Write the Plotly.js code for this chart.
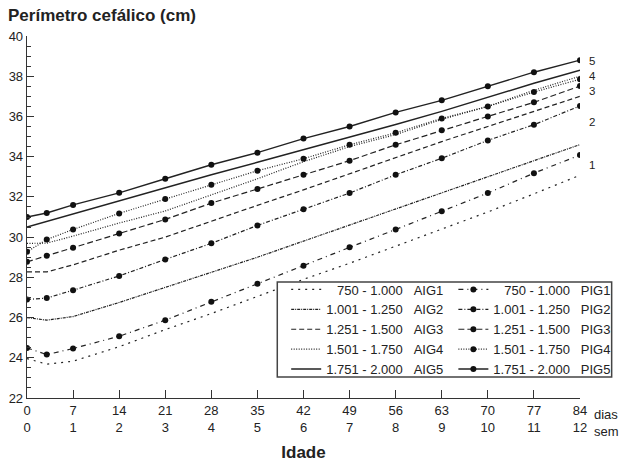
<!DOCTYPE html>
<html>
<head>
<meta charset="utf-8">
<script src="https://cdn.plot.ly/plotly-3.0.1.min.js"></script>
<style>html,body{margin:0;padding:0;background:#fff;}#chart{width:628px;height:469px;}</style>
</head>
<body>
<div id="chart"></div>
<script>
// ---- data ----
var days = [0, 3, 7, 14, 21, 28, 35, 42, 49, 56, 63, 70, 77, 84];
var weekTicks = [0, 7, 14, 21, 28, 35, 42, 49, 56, 63, 70, 77, 84];
var weekLabels = ['0', '1', '2', '3', '4', '5', '6', '7', '8', '9', '10', '11', '12'];

var AIG1 = [23.96, 23.68, 23.83, 24.55, 25.40, 26.20, 27.05, 27.90, 28.70, 29.55, 30.40, 31.25, 32.15, 33.08];
var AIG2 = [26.00, 25.87, 26.05, 26.75, 27.50, 28.25, 29.00, 29.80, 30.60, 31.40, 32.20, 33.00, 33.80, 34.60];
var AIG3 = [28.27, 28.27, 28.62, 29.35, 30.00, 30.80, 31.58, 32.35, 33.15, 33.95, 34.75, 35.50, 36.25, 37.00];
var AIG4 = [29.69, 29.70, 30.05, 30.70, 31.30, 32.10, 32.90, 33.75, 34.50, 35.10, 35.85, 36.50, 37.30, 38.00];
var AIG5 = [30.50, 30.78, 31.16, 31.82, 32.48, 33.10, 33.72, 34.35, 34.95, 35.60, 36.25, 36.95, 37.65, 38.30];

var PIG1 = [24.49, 24.16, 24.46, 25.07, 25.87, 26.78, 27.68, 28.57, 29.49, 30.38, 31.28, 32.19, 33.18, 34.08];
var PIG2 = [26.90, 26.97, 27.36, 28.07, 28.89, 29.69, 30.58, 31.38, 32.19, 33.10, 33.92, 34.81, 35.59, 36.52];
var PIG3 = [28.77, 29.07, 29.47, 30.18, 30.88, 31.69, 32.39, 33.10, 33.80, 34.59, 35.31, 36.00, 36.70, 37.51];
var PIG4 = [29.27, 29.88, 30.38, 31.18, 31.89, 32.60, 33.30, 33.90, 34.59, 35.19, 35.90, 36.50, 37.21, 37.85];
var PIG5 = [31.00, 31.20, 31.60, 32.20, 32.90, 33.60, 34.20, 34.90, 35.50, 36.20, 36.80, 37.50, 38.20, 38.80];

var weightRanges = ['\u2007\u2008750 - 1.000', '1.001 - 1.250', '1.251 - 1.500', '1.501 - 1.750', '1.751 - 2.000'];
var aigNames = ['AIG1', 'AIG2', 'AIG3', 'AIG4', 'AIG5'];
var pigNames = ['PIG1', 'PIG2', 'PIG3', 'PIG4', 'PIG5'];
var endLabels = ['1', '2', '3', '4', '5'];
var endLabelY = [33.6, 35.74, 37.27, 38.03, 38.78];

// ---- styles ----
var FONT = 'Liberation Sans, Arial, Helvetica, sans-serif';
var INK = '#222';
var aigDash = ['2px,5px', '3px,1px,1px,1px', '5px,3px', '1px,1.5px', 'solid'];
var pigDash = ['5px,4px,1px,4px', '4px,2px,1px,2px', '6px,3px', '1px,1.5px', 'solid'];

var aigData = [AIG1, AIG2, AIG3, AIG4, AIG5];
var pigData = [PIG1, PIG2, PIG3, PIG4, PIG5];
var gap = '\u00a0\u00a0\u00a0';

var traces = [];
for (var i = 0; i < 5; i++) {
  traces.push({
    x: days, y: aigData[i], type: 'scatter', mode: 'lines',
    name: weightRanges[i] + gap + aigNames[i],
    line: {color: INK, width: i === 4 ? 1.4 : 1.2, dash: aigDash[i]},
    legend: 'legend', hoverinfo: 'skip'
  });
}
for (var j = 0; j < 5; j++) {
  traces.push({
    x: days, y: pigData[j], type: 'scatter', mode: 'lines+markers',
    name: weightRanges[j] + gap + pigNames[j],
    line: {color: INK, width: j === 4 ? 1.4 : 1.2, dash: pigDash[j]},
    marker: {color: '#111', size: 6, symbol: 'circle'},
    legend: 'legend2', hoverinfo: 'skip'
  });
}

var dayText = weekTicks.map(function (d, k) { return d + '<br>' + weekLabels[k]; });

var annotations = [];
for (var a = 0; a < 5; a++) {
  annotations.push({
    xref: 'x', yref: 'y', x: 84, y: endLabelY[a], xshift: 12,
    text: endLabels[a], showarrow: false, xanchor: 'center', yanchor: 'middle',
    borderpad: 0, font: {family: FONT, size: 11.5, color: INK}
  });
}
annotations.push({xref: 'x', yref: 'paper', x: 84, xshift: 12, y: -0.0456, xanchor: 'left', yanchor: 'middle',
  text: 'dias', showarrow: false, font: {family: FONT, size: 13, color: INK}});
annotations.push({xref: 'x', yref: 'paper', x: 84, xshift: 12, y: -0.0925, xanchor: 'left', yanchor: 'middle',
  text: 'sem', showarrow: false, font: {family: FONT, size: 13, color: INK}});

var legendCommon = {
  yanchor: 'middle', xanchor: 'left', y: 0.1892,
  bgcolor: 'rgba(255,255,255,0)', borderwidth: 0,
  font: {family: FONT, size: 13, color: INK},
  itemwidth: 30, tracegroupgap: 0, orientation: 'v'
};

var layout = {
  width: 628, height: 469,
  margin: {l: 27, r: 41, t: 36, b: 71},
  paper_bgcolor: '#fff', plot_bgcolor: '#fff',
  font: {family: FONT, size: 13, color: INK},
  showlegend: true,
  title: {
    text: 'Perímetro cefálico (cm)', xref: 'container', x: 8 / 628, xanchor: 'left',
    yref: 'container', y: 1 - 15 / 469, yanchor: 'middle',
    font: {family: FONT, size: 17, weight: 'bold', color: INK}
  },
  xaxis: {
    range: [0, 84], tickmode: 'array', tickvals: weekTicks, ticktext: dayText,
    ticks: 'inside', ticklen: 8, tickwidth: 1, tickcolor: '#333',
    showline: true, linecolor: '#333', linewidth: 1.3, showgrid: false, zeroline: false,
    tickfont: {family: FONT, size: 13, color: INK},
    title: {text: 'Idade', font: {family: FONT, size: 17, weight: 'bold', color: INK}, standoff: 12}
  },
  yaxis: {
    range: [22, 40], dtick: 2, tick0: 22,
    ticks: 'inside', ticklen: 7, tickwidth: 1.2, tickcolor: '#333',
    minor: {dtick: 0.5, ticks: 'inside', ticklen: 4, tickwidth: 1, tickcolor: '#333'},
    showline: true, linecolor: '#333', linewidth: 1.3, showgrid: false, zeroline: false,
    tickfont: {family: FONT, size: 13, color: INK}
  },
  legend: Object.assign({}, legendCommon, {x: (289 - 27) / 559}),
  legend2: Object.assign({}, legendCommon, {x: (458 - 27) / 559}),
  shapes: [{
    type: 'rect', xref: 'paper', yref: 'paper',
    x0: (280 - 27) / 559, x1: (618 - 27) / 559,
    y0: (398 - 377) / 362, y1: (398 - 282) / 362,
    line: {color: '#444', width: 1.5}, fillcolor: '#fff', layer: 'above'
  }],
  annotations: annotations
};

Plotly.newPlot('chart', traces, layout, {staticPlot: true, displayModeBar: false});
</script>
</body>
</html>
